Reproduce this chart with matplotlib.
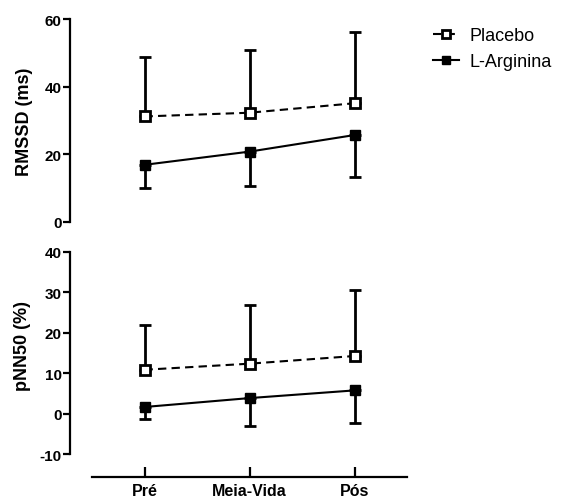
import matplotlib
matplotlib.use("Agg")
import matplotlib.pyplot as plt

plt.rcParams['font.family'] = ['Liberation Sans', 'DejaVu Sans']

groups = ["Pré", "Meia-Vida", "Pós"]

rmssd_placebo = [31.2, 32.3, 35.1]
rmssd_placebo_sd = [17.6, 18.5, 21.1]
rmssd_larg = [16.9, 20.8, 25.7]
rmssd_larg_sd = [6.9, 10.1, 12.5]

pnn50_placebo = [10.9, 12.4, 14.3]
pnn50_placebo_sd = [11.0, 14.5, 16.2]
pnn50_larg = [1.7, 3.9, 5.8]
pnn50_larg_sd = [3.0, 6.9, 8.1]

W, H = 561, 502
fig = plt.figure(figsize=(W / 100, H / 100), dpi=100)

ax1 = fig.add_axes([70 / W, 1 - 223 / H, 337 / W, 203 / H])
ax2 = fig.add_axes([70 / W, 1 - 478 / H, 337 / W, 225 / H])

x = list(range(len(groups)))


def draw(ax, plac, plac_sd, larg, larg_sd):
    ax.errorbar(x, plac, yerr=[[0] * 3, plac_sd], fmt="none", ecolor="black",
                elinewidth=2, capsize=4.5, capthick=2, zorder=2)
    ax.errorbar(x, larg, yerr=[larg_sd, [0] * 3], fmt="none", ecolor="black",
                elinewidth=2, capsize=4.5, capthick=2, zorder=2)
    ax.plot(x, plac, color="black", linestyle=(0, (4, 2.5)), lw=1.5, marker="s",
            markersize=7, markerfacecolor="white", markeredgecolor="black",
            markeredgewidth=2, label="Placebo", zorder=3)
    ax.plot(x, larg, color="black", linestyle="-", lw=1.5, marker="s",
            markersize=7.5, markerfacecolor="black", markeredgecolor="black",
            label="L-Arginina", zorder=3)
    for s in ["top", "right"]:
        ax.spines[s].set_visible(False)
    ax.spines["left"].set_linewidth(1.6)
    ax.tick_params(axis="y", length=5, width=1.6, labelsize=11, pad=1)
    ax.set_xlim(-0.5 - 22 / 105, 2.5)


draw(ax1, rmssd_placebo, rmssd_placebo_sd, rmssd_larg, rmssd_larg_sd)
ax1.set_ylim(0, 60)
ax1.set_yticks([0, 20, 40, 60])
ax1.set_yticklabels(["0", "20", "40", "60"], fontweight="bold")
ax1.spines["bottom"].set_visible(False)
ax1.set_xticks([])
ax1.set_ylabel("RMSSD (ms)", fontsize=13, fontweight="bold")
ax1.yaxis.set_label_coords(-37 / 337, 0.5)

draw(ax2, pnn50_placebo, pnn50_placebo_sd, pnn50_larg, pnn50_larg_sd)
ax2.set_ylim(-15.6, 40)
ax2.set_yticks([-10, 0, 10, 20, 30, 40])
ax2.set_yticklabels(["-10", "0", "10", "20", "30", "40"], fontweight="bold")
ax2.spines["left"].set_bounds(-10, 40)
ax2.spines["bottom"].set_bounds(-0.5, 2.5)
ax2.spines["bottom"].set_linewidth(1.6)
ax2.set_xticks(x)
ax2.set_xticklabels(groups, fontweight="bold", fontsize=11.5)
ax2.tick_params(axis="x", direction="in", length=7, width=1.6, pad=4)
ax2.set_ylabel("pNN50 (%)", fontsize=13, fontweight="bold")
ax2.yaxis.set_label_coords(-39 / 337, 0.587)

handles, labels = ax1.get_legend_handles_labels()
fig.legend(handles, labels, loc="upper left", bbox_to_anchor=(426 / W, 1 - 21 / H),
           frameon=False, fontsize=13, handlelength=1.4, handletextpad=0.6,
           labelspacing=0.5, borderaxespad=0, markerscale=0.85)

fig.savefig("out.png", dpi=100)
